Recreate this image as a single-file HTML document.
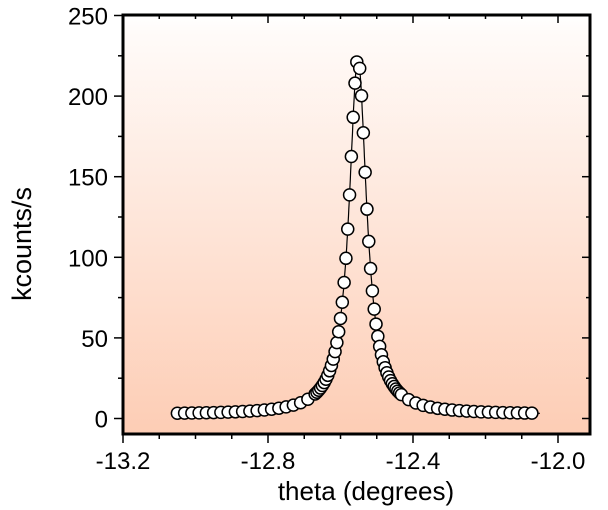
<!DOCTYPE html>
<html><head><meta charset="utf-8"><style>
html,body{margin:0;padding:0;background:#fff;}
svg{display:block;font-family:"Liberation Sans",Arial,sans-serif;}
</style></head><body>
<svg id="s" width="608" height="510" viewBox="0 0 608 510">
<defs><linearGradient id="g" x1="0" y1="0" x2="0" y2="1">
<stop offset="0" stop-color="#ffffff"/><stop offset="0.04" stop-color="#fffbf9"/>
<stop offset="1" stop-color="#fdcdb5"/></linearGradient></defs>
<rect x="123" y="15" width="467" height="419" fill="url(#g)"/>
<g id="ticks" stroke="#000" stroke-width="1.5"></g>
<g id="data"></g>
<rect x="123" y="15" width="467" height="419" fill="none" stroke="#000" stroke-width="3"/>
<g font-size="24" fill="#000" id="lab"></g>
<text x="366" y="500" font-size="26" text-anchor="middle">theta (degrees)</text>
<text transform="translate(31,244) rotate(-90)" font-size="27" text-anchor="middle">kcounts/s</text>
</svg>
<script>
var NS="http://www.w3.org/2000/svg";
function X(t){return 123+(t+13.2)*362.5;}
function Y(v){return 418.5-v*1.612;}
function el(n,a,p){var e=document.createElementNS(NS,n);for(var k in a)e.setAttribute(k,a[k]);p.appendChild(e);return e;}
var tk=document.getElementById('ticks'),lab=document.getElementById('lab');
for(var i=0;i<=13;i++){var t=-13.2+i*0.1,x=X(t);if(x>591)break;var maj=(i%4==0);
 el('line',{x1:x,y1:434,x2:x,y2:434+(maj?9:5)},tk);
 el('line',{x1:x,y1:15,x2:x,y2:15+(maj?8:4)},tk);
 if(maj){var tx=el('text',{x:x,y:469,'text-anchor':'middle'},lab);tx.textContent=t.toFixed(1);}}
for(var v=0;v<=250;v+=25){var y=Y(v),maj=(v%50==0);
 el('line',{x1:123,y1:y,x2:123-(maj?9:5),y2:y},tk);
 el('line',{x1:590,y1:y,x2:590-(maj?8:4),y2:y},tk);
 if(maj){var tx=el('text',{x:108,y:y+9,'text-anchor':'end'},lab);tx.textContent=v;}}
var x0=-12.552,g2=0.00085,A=221,b=2.5;
function L(t){var d=t-x0;return A*g2/(d*d+g2)+b;}
var dg=document.getElementById('data');
var pts=[];for(var t=-13.05;t<=x0+0.001;t+=(Math.abs(t-x0)>0.12?0.02:0.005))pts.push(t);
for(var t=x0+0.005;t<=-12.055;t+=(Math.abs(t-x0)>0.12?0.02:0.005))pts.push(t);
var d="";for(var t=-13.05;t<=-12.05;t+=0.001){d+=(d?"L":"M")+X(t).toFixed(1)+","+Y(L(t)).toFixed(1);}
el('path',{d:d,fill:'none',stroke:'#000','stroke-width':1.2},dg);
pts.forEach(function(t){el('circle',{cx:X(t),cy:Y(L(t)),r:6,fill:'#fff',stroke:'#000','stroke-width':1.5},dg);});
</script>
</body></html>
